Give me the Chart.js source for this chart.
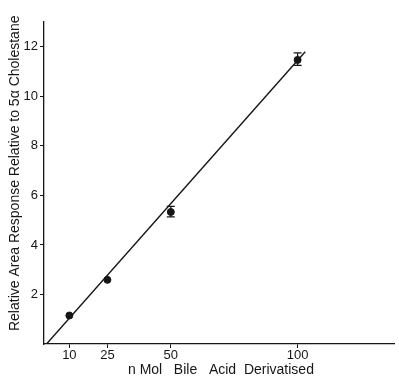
<!DOCTYPE html>
<html lang="en">
<head>
    <meta charset="UTF-8">
    <title>Bile Acid Calibration</title>
    <script src="https://cdn.jsdelivr.net/npm/chart.js"></script>
    <style>
        body {
            margin: 0;
            background: #ffffff;
        }
        #wrap {
            width: 399px;
            height: 379px;
        }
    </style>
</head>
<body>
    <div id="wrap">
        <canvas id="calChart" width="399" height="379"></canvas>
    </div>
    <script>
        // nmol derivatised vs. relative area response
        const amounts = [10, 25, 50, 100];
        const responses = [1.15, 2.59, 5.33, 11.47];
        const errLow = [1.15, 2.59, 5.13, 11.25];
        const errHigh = [1.15, 2.59, 5.56, 11.75];

        // fitted calibration line, end points
        const fitX = [1, 103];
        const fitY = [0, 11.8];

        const xTicks = [10, 25, 50, 100];
        const yTicks = [2, 4, 6, 8, 10, 12];

        const ink = '#161616';
        const tickFont = { family: 'Liberation Sans, Arial, sans-serif', size: 13 };
        const titleFont = { family: 'Liberation Sans, Arial, sans-serif', size: 14 };

        const errorBars = {
            id: 'errorBars',
            afterDatasetsDraw(chart) {
                const x = chart.scales.x, y = chart.scales.y, c = chart.ctx;
                c.save();
                c.strokeStyle = ink;
                c.lineWidth = 1.3;
                amounts.forEach((a, i) => {
                    if (errHigh[i] === errLow[i]) return;
                    const px = x.getPixelForValue(a);
                    const top = y.getPixelForValue(errHigh[i]);
                    const bot = y.getPixelForValue(errLow[i]);
                    c.beginPath();
                    c.moveTo(px, top); c.lineTo(px, bot);
                    c.moveTo(px - 4, top); c.lineTo(px + 4, top);
                    c.moveTo(px - 4, bot); c.lineTo(px + 4, bot);
                    c.stroke();
                });
                c.restore();
            }
        };

        new Chart(document.getElementById('calChart'), {
            type: 'scatter',
            data: {
                datasets: [{
                    data: amounts.map((a, i) => ({ x: a, y: responses[i] })),
                    pointRadius: 3.5,
                    pointBackgroundColor: ink,
                    pointBorderColor: ink,
                    showLine: false
                }, {
                    data: fitX.map((a, i) => ({ x: a, y: fitY[i] })),
                    showLine: true,
                    pointRadius: 0,
                    borderColor: ink,
                    borderWidth: 1.4
                }]
            },
            plugins: [errorBars],
            options: {
                responsive: false,
                animation: false,
                layout: { padding: { top: 22, right: 1, left: 0, bottom: 0 } },
                plugins: { legend: { display: false }, tooltip: { enabled: false } },
                scales: {
                    x: {
                        type: 'linear',
                        min: 0,
                        max: 138,
                        afterBuildTicks: s => { s.ticks = xTicks.map(v => ({ value: v })); },
                        afterFit: s => { s.height = 35; },
                        grid: { drawOnChartArea: false, tickLength: 4, color: ink },
                        border: { color: ink, width: 1.3 },
                        ticks: { color: ink, font: tickFont, padding: 0, maxRotation: 0 },
                        title: {
                            display: true,
                            text: ' n Mol   Bile   Acid  Derivatised',
                            color: ink,
                            font: titleFont,
                            padding: { top: 2, bottom: 0 }
                        }
                    },
                    y: {
                        min: 0,
                        max: 13,
                        afterBuildTicks: s => { s.ticks = yTicks.map(v => ({ value: v })); },
                        afterFit: s => { s.width = 44; },
                        grid: { drawOnChartArea: false, tickLength: 4, color: ink },
                        border: { color: ink, width: 1.3 },
                        ticks: { color: ink, font: tickFont, padding: 2 },
                        title: {
                            display: true,
                            // leading spaces nudge the rotated title toward the top
                            text: '     Relative Area Response Relative to 5\u03b1 Cholestane',
                            color: ink,
                            font: titleFont,
                            padding: { top: 7, bottom: 0 }
                        }
                    }
                }
            }
        });
    </script>
</body>
</html>
